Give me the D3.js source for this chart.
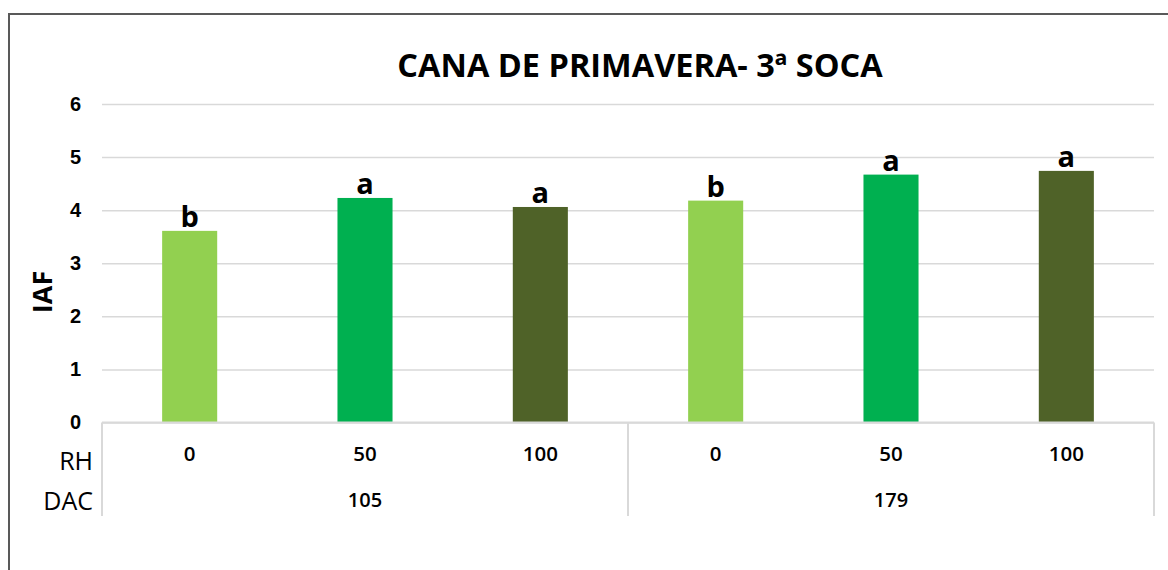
<!DOCTYPE html>
<html>
<head>
<meta charset="utf-8">
<script src="https://cdn.jsdelivr.net/npm/d3@7"></script>
<style>
	body { margin: 0; background: #fff; }
	svg { display: block; font-family: "Open Sans", sans-serif; }
</style>
</head>
<body>
<svg id="chart" width="1168" height="570"></svg>
<script>
var dacGroups = ["105", "179"];
var rhLevels = ["0", "50", "100"];
var iafValues = [3.61, 4.23, 4.06, 4.18, 4.67, 4.74];
var letters = ["b", "a", "a", "b", "a", "a"];
var yTicks = [0, 1, 2, 3, 4, 5, 6];
var barColors = ["#92d050", "#00b050", "#4f6228"];

var width = 1168, height = 570;
var plot = {left: 102, right: 1154, top: 104, bottom: 422.5};

var svg = d3.select("#chart");

// chart frame
svg.append("rect")
	.attr("x", 9).attr("y", 14)
	.attr("width", 1200).attr("height", 600)
	.attr("fill", "none")
	.attr("stroke", "#595959")
	.attr("stroke-width", 2);

// one entry per bar
var bars = [];
dacGroups.forEach(function(g, gi){
	rhLevels.forEach(function(r, ri){
		var i = gi*rhLevels.length + ri;
		bars.push({id: g+"-"+r, dac: g, rh: r, idx: ri, value: iafValues[i], letter: letters[i]});
	});
});

var x = d3.scaleBand()
	.domain(bars.map(function(d){ return d.id; }))
	.range([plot.left, plot.right])
	.paddingInner(0.686)
	.paddingOuter(0.343);

var xGroup = d3.scaleBand()
	.domain(dacGroups)
	.range([plot.left, plot.right]);

var y = d3.scaleLinear()
	.domain([0, 6])
	.range([plot.bottom, plot.top]);

// gridlines
var yAxis = d3.axisLeft(y)
	.tickValues(yTicks)
	.tickSize(-(plot.right - plot.left))
	.tickPadding(21)
	.tickFormat(d3.format("d"));

var gy = svg.append("g")
	.attr("transform", "translate("+plot.left+",0)")
	.call(yAxis);
gy.select(".domain").remove();
gy.selectAll(".tick line")
	.attr("stroke", "#d9d9d9")
	.attr("stroke-width", 1.5);
gy.selectAll(".tick text")
	.attr("fill", "#000")
	.attr("font-size", 20)
	.attr("font-weight", "bold");

// bars
svg.append("g")
	.selectAll("rect")
	.data(bars)
	.enter().append("rect")
	.attr("x", function(d){ return x(d.id); })
	.attr("y", function(d){ return y(d.value); })
	.attr("width", x.bandwidth())
	.attr("height", function(d){ return y(0) - y(d.value); })
	.attr("fill", function(d){ return barColors[d.idx]; });

// significance letters
svg.append("g")
	.selectAll("text")
	.data(bars)
	.enter().append("text")
	.attr("x", function(d){ return x(d.id) + x.bandwidth()/2; })
	.attr("y", function(d){ return y(d.value) - 4; })
	.attr("text-anchor", "middle")
	.attr("font-size", 29)
	.attr("font-weight", "bold")
	.text(function(d){ return d.letter; });

// category axis (two rows)
var axisG = svg.append("g").attr("stroke", "#d9d9d9").attr("stroke-width", 2);
axisG.append("line")
	.attr("x1", plot.left).attr("x2", plot.right)
	.attr("y1", plot.bottom).attr("y2", plot.bottom);
var dividers = dacGroups.map(function(g){ return xGroup(g); }).concat([plot.right]);
axisG.selectAll("line.div")
	.data(dividers)
	.enter().append("line")
	.attr("class", "div")
	.attr("x1", function(d){ return d; }).attr("x2", function(d){ return d; })
	.attr("y1", plot.bottom).attr("y2", 516);

svg.append("g")
	.selectAll("text")
	.data(bars)
	.enter().append("text")
	.attr("x", function(d){ return x(d.id) + x.bandwidth()/2; })
	.attr("y", 461)
	.attr("text-anchor", "middle")
	.attr("font-size", 20.5)
	.attr("font-weight", 600)
	.text(function(d){ return d.rh; });

svg.append("g")
	.selectAll("text")
	.data(dacGroups)
	.enter().append("text")
	.attr("x", function(d){ return xGroup(d) + xGroup.bandwidth()/2; })
	.attr("y", 507)
	.attr("text-anchor", "middle")
	.attr("font-size", 20)
	.attr("font-weight", 600)
	.text(function(d){ return d; });

svg.append("text")
	.attr("x", 93).attr("y", 470)
	.attr("text-anchor", "end")
	.attr("font-size", 25)
	.text("RH");
svg.append("text")
	.attr("x", 93).attr("y", 510)
	.attr("text-anchor", "end")
	.attr("font-size", 25)
	.text("DAC");

// y title
svg.append("text")
	.attr("transform", "translate(52,292) rotate(-90)")
	.attr("text-anchor", "middle")
	.attr("font-size", 27)
	.attr("font-weight", "bold")
	.text("IAF");

// title
svg.append("text")
	.attr("x", 640).attr("y", 77)
	.attr("text-anchor", "middle")
	.attr("font-size", 32.5)
	.attr("font-weight", "bold")
	.text("CANA DE PRIMAVERA- 3ª SOCA");
</script>
</body>
</html>
